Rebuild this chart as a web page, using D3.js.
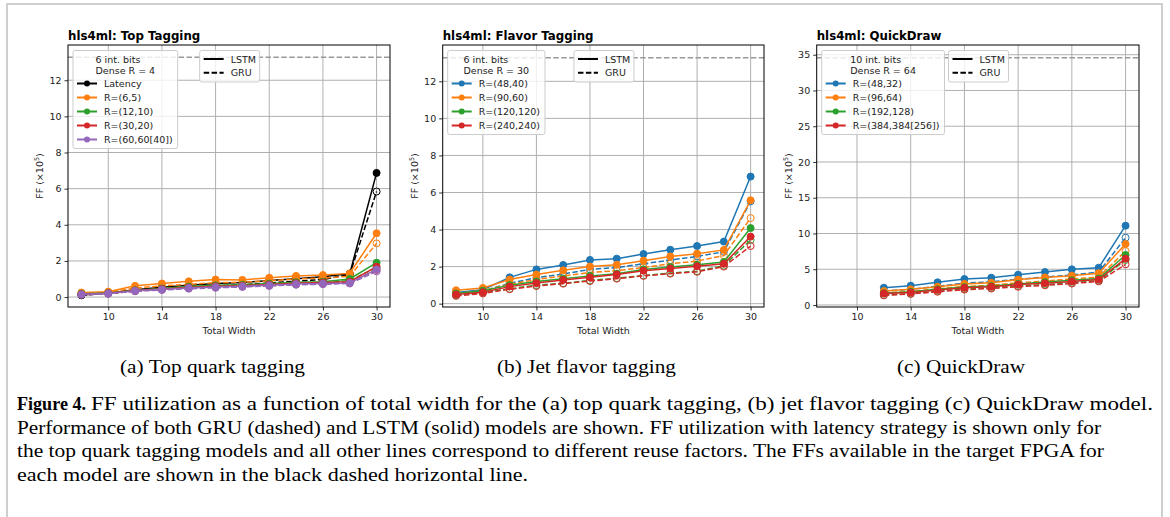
<!DOCTYPE html>
<html>
<head>
<meta charset="utf-8">
<script src="https://cdn.jsdelivr.net/npm/d3@7"></script>
<style>
  body { margin: 0; background: #fff; }
  svg { display: block; }
</style>
</head>
<body>
<script>
// Total width values on the x axis
const widthsAll = [8, 10, 12, 14, 16, 18, 20, 22, 24, 26, 28, 30];
const widthsQuick = [12, 14, 16, 18, 20, 22, 24, 26, 28, 30];
const xTicks = [10, 14, 18, 22, 26, 30];
const yTicksSmall = [0, 2, 4, 6, 8, 10, 12];
const yTicksQuick = [0, 5, 10, 15, 20, 25, 30, 35];

// FFs available in target FPGA (x10^5)
const ffAvailTop = 13.2672;
const ffAvailFlavor = 13.2672;
const ffAvailQuick = 34.56;

// (a) top tagging
const topNames = ["Latency", "R=(6,5)", "R=(12,10)", "R=(30,20)", "R=(60,60[40])"];
const topColors = ["#000000", "#ff7f0e", "#2ca02c", "#d62728", "#9467bd"];
const topLatencyLSTM = [0.12, 0.22, 0.40, 0.55, 0.65, 0.75, 0.80, 0.92, 1.02, 1.12, 1.30, 6.87];
const topLatencyGRU  = [0.10, 0.20, 0.35, 0.45, 0.55, 0.62, 0.68, 0.78, 0.88, 0.97, 1.25, 5.84];
const topR1LSTM = [0.25, 0.30, 0.62, 0.75, 0.87, 0.97, 0.95, 1.07, 1.17, 1.22, 1.31, 3.53];
const topR1GRU  = [0.20, 0.27, 0.50, 0.62, 0.70, 0.80, 0.82, 0.90, 1.00, 1.05, 1.15, 2.97];
const topR2LSTM = [0.18, 0.22, 0.38, 0.48, 0.58, 0.65, 0.68, 0.75, 0.82, 0.85, 1.00, 1.90];
const topR2GRU  = [0.15, 0.20, 0.34, 0.43, 0.52, 0.58, 0.62, 0.68, 0.74, 0.78, 0.92, 1.62];
const topR3LSTM = [0.16, 0.21, 0.36, 0.45, 0.53, 0.60, 0.63, 0.70, 0.77, 0.80, 0.85, 1.68];
const topR3GRU  = [0.13, 0.19, 0.33, 0.41, 0.49, 0.55, 0.58, 0.64, 0.70, 0.73, 0.80, 1.50];
const topR4LSTM = [0.15, 0.20, 0.35, 0.42, 0.50, 0.55, 0.60, 0.65, 0.72, 0.75, 0.78, 1.53];
const topR4GRU  = [0.13, 0.18, 0.32, 0.39, 0.46, 0.51, 0.56, 0.61, 0.68, 0.71, 0.75, 1.42];

// (b) flavor tagging
const flavorNames = ["R=(48,40)", "R=(90,60)", "R=(120,120)", "R=(240,240)"];
const flavorColors = ["#1f77b4", "#ff7f0e", "#2ca02c", "#d62728"];
const flavorR1LSTM = [0.60, 0.75, 1.42, 1.85, 2.09, 2.36, 2.43, 2.68, 2.91, 3.11, 3.35, 6.86];
const flavorR1GRU  = [0.52, 0.68, 1.10, 1.40, 1.60, 1.85, 1.95, 2.15, 2.35, 2.55, 2.80, 5.52];
const flavorR2LSTM = [0.72, 0.85, 1.30, 1.57, 1.80, 2.00, 2.10, 2.32, 2.55, 2.70, 2.90, 5.58];
const flavorR2GRU  = [0.55, 0.70, 1.05, 1.30, 1.50, 1.68, 1.78, 1.95, 2.15, 2.30, 2.60, 4.62];
const flavorR3LSTM = [0.55, 0.70, 1.00, 1.20, 1.35, 1.50, 1.62, 1.85, 1.98, 2.10, 2.25, 4.08];
const flavorR3GRU  = [0.45, 0.60, 0.80, 1.00, 1.10, 1.25, 1.38, 1.52, 1.65, 1.75, 2.05, 3.44];
const flavorR4LSTM = [0.50, 0.62, 0.92, 1.12, 1.28, 1.42, 1.58, 1.78, 1.90, 2.02, 2.15, 3.62];
const flavorR4GRU  = [0.42, 0.55, 0.78, 0.95, 1.08, 1.22, 1.35, 1.50, 1.62, 1.72, 2.00, 3.11];

// (c) QuickDraw
const quickNames = ["R=(48,32)", "R=(96,64)", "R=(192,128)", "R=(384,384[256])"];
const quickColors = ["#1f77b4", "#ff7f0e", "#2ca02c", "#d62728"];
const quickR1LSTM = [2.42, 2.70, 3.17, 3.63, 3.82, 4.24, 4.61, 4.99, 5.22, 11.09];
const quickR1GRU  = [1.95, 2.20, 2.60, 3.05, 3.25, 3.60, 3.90, 4.20, 4.60, 9.41];
const quickR2LSTM = [1.95, 2.20, 2.55, 2.95, 3.10, 3.55, 3.85, 4.10, 4.45, 8.53];
const quickR2GRU  = [1.70, 1.90, 2.25, 2.60, 2.75, 3.10, 3.35, 3.65, 3.90, 7.55];
const quickR3LSTM = [1.65, 1.85, 2.20, 2.50, 2.65, 2.95, 3.20, 3.45, 3.70, 6.99];
const quickR3GRU  = [1.40, 1.60, 1.95, 2.25, 2.40, 2.65, 2.85, 3.10, 3.40, 6.30];
const quickR4LSTM = [1.60, 1.75, 2.10, 2.40, 2.55, 2.85, 3.05, 3.30, 3.55, 6.48];
const quickR4GRU  = [1.35, 1.55, 1.85, 2.15, 2.30, 2.55, 2.75, 3.00, 3.30, 5.69];

const svg = d3.select("body").append("svg")
  .attr("width", 1170)
  .attr("height", 517);

// light page frame
svg.append("rect")
  .attr("x", 7).attr("y", 4)
  .attr("width", 1155).attr("height", 600)
  .attr("fill", "none")
  .attr("stroke", "#cfcfcf")
  .attr("stroke-width", 2);

const sans = "DejaVu Sans, sans-serif";

function drawPanel(opt) {
  const top = 45, bottom = 307;
  const x = d3.scaleLinear().domain([7, 31]).range([opt.left, opt.right]);
  const y = d3.scaleLinear().domain(opt.yDomain).range([bottom, top]);
  const g = svg.append("g");

  // grid
  g.append("g").selectAll("line.gx").data(xTicks).join("line")
    .attr("x1", d => x(d)).attr("x2", d => x(d))
    .attr("y1", top).attr("y2", bottom)
    .attr("stroke", "#b0b0b0").attr("stroke-width", 1);
  g.append("g").selectAll("line.gy").data(opt.yTicks).join("line")
    .attr("x1", opt.left).attr("x2", opt.right)
    .attr("y1", d => y(d)).attr("y2", d => y(d))
    .attr("stroke", "#b0b0b0").attr("stroke-width", 1);

  // available FFs
  g.append("line")
    .attr("x1", opt.left).attr("x2", opt.right)
    .attr("y1", y(opt.avail)).attr("y2", y(opt.avail))
    .attr("stroke", "#999").attr("stroke-width", 1.5)
    .attr("stroke-dasharray", "5.5,2.4");

  // axes
  const xAxis = d3.axisBottom(x).tickValues(xTicks).tickSize(3.5).tickPadding(3);
  const yAxis = d3.axisLeft(y).tickValues(opt.yTicks).tickSize(3.5).tickPadding(3);
  const ax = g.append("g").attr("transform", `translate(0,${bottom})`).call(xAxis);
  const ay = g.append("g").attr("transform", `translate(${opt.left},0)`).call(yAxis);
  [ax, ay].forEach(a => {
    a.select(".domain").remove();
    a.selectAll("line").attr("stroke", "#000").attr("stroke-width", 0.8);
    a.selectAll("text").attr("font-family", sans).attr("font-size", 9.5).attr("fill", "#222");
  });

  // series
  const line = d3.line().x(d => x(d[0])).y(d => y(d[1]));
  opt.series.forEach(s => {
    const gru = opt.xs.map((w, i) => [w, s.gru[i]]);
    const lstm = opt.xs.map((w, i) => [w, s.lstm[i]]);
    g.append("path").datum(gru)
      .attr("d", line).attr("fill", "none")
      .attr("stroke", s.color).attr("stroke-width", 1.5)
      .attr("stroke-dasharray", "5.5,2.4");
    g.append("g").selectAll("circle").data(gru).join("circle")
      .attr("cx", d => x(d[0])).attr("cy", d => y(d[1])).attr("r", 3.5)
      .attr("fill", "none").attr("stroke", s.color).attr("stroke-width", 1);
    g.append("path").datum(lstm)
      .attr("d", line).attr("fill", "none")
      .attr("stroke", s.color).attr("stroke-width", 1.5);
    g.append("g").selectAll("circle").data(lstm).join("circle")
      .attr("cx", d => x(d[0])).attr("cy", d => y(d[1])).attr("r", 3.5)
      .attr("fill", s.color).attr("stroke", s.color).attr("stroke-width", 1);
  });

  // frame
  g.append("rect")
    .attr("x", opt.left).attr("y", top)
    .attr("width", opt.right - opt.left).attr("height", bottom - top)
    .attr("fill", "none").attr("stroke", "#000").attr("stroke-width", 1);

  // title and labels
  g.append("text")
    .attr("x", opt.left).attr("y", 40)
    .attr("font-family", sans).attr("font-size", 11.8).attr("font-weight", "bold")
    .text(opt.title);
  g.append("text")
    .attr("x", (opt.left + opt.right) / 2).attr("y", 334)
    .attr("text-anchor", "middle")
    .attr("font-family", sans).attr("font-size", 9.5).attr("fill", "#222")
    .text("Total Width");
  const yl = g.append("text")
    .attr("transform", `translate(${opt.ylabelX},176) rotate(-90)`)
    .attr("text-anchor", "middle")
    .attr("font-family", sans).attr("font-size", 9.5).attr("fill", "#222");
  yl.append("tspan").text("FF (×10");
  yl.append("tspan").attr("font-size", 6.5).attr("dy", -4).text("5");
  yl.append("tspan").attr("dy", 4).text(")");

  // legend of reuse factors
  const lx = opt.left + 5, ly = 50.5;
  const lg = g.append("g");
  const box = lg.append("rect")
    .attr("x", lx).attr("y", ly).attr("rx", 2)
    .attr("fill", "#fff").attr("fill-opacity", 0.8)
    .attr("stroke", "#cccccc").attr("stroke-width", 1);
  const titles = opt.legendTitle.map((t, i) => lg.append("text")
    .attr("y", ly + 12.3 + i * 11)
    .attr("font-family", sans).attr("font-size", 9.5).attr("fill", "#222")
    .text(t));
  let maxText = 0;
  opt.series.forEach((s, i) => {
    const ry = ly + 33 + i * 14;
    lg.append("line")
      .attr("x1", lx + 4).attr("x2", lx + 24)
      .attr("y1", ry).attr("y2", ry)
      .attr("stroke", s.color).attr("stroke-width", 2);
    lg.append("circle").attr("cx", lx + 14).attr("cy", ry).attr("r", 3)
      .attr("fill", s.color);
    const t = lg.append("text")
      .attr("x", lx + 31).attr("y", ry + 3.5)
      .attr("font-family", sans).attr("font-size", 9.5).attr("fill", "#222")
      .text(s.name);
    maxText = Math.max(maxText, t.node().getComputedTextLength());
  });
  const boxW = 31 + maxText + 5;
  const boxH = 42 + 14 * (opt.series.length - 1);
  box.attr("width", boxW).attr("height", boxH);
  const titleW = d3.max(titles, t => t.node().getComputedTextLength());
  titles.forEach(t => t.attr("x", lx + boxW / 2 - titleW / 2));

  // legend of cell type
  const sx = lx + boxW + opt.styleGap, sy = 50.5;
  const sg = g.append("g");
  sg.append("rect")
    .attr("x", sx).attr("y", sy).attr("rx", 2)
    .attr("width", 60).attr("height", 31.5)
    .attr("fill", "#fff").attr("fill-opacity", 0.8)
    .attr("stroke", "#cccccc").attr("stroke-width", 1);
  [["LSTM", null], ["GRU", "5.5,2.4"]].forEach((d, i) => {
    const ry = sy + 8.5 + i * 13.7;
    sg.append("line")
      .attr("x1", sx + 4).attr("x2", sx + 24)
      .attr("y1", ry).attr("y2", ry)
      .attr("stroke", "#000").attr("stroke-width", 2)
      .attr("stroke-dasharray", d[1]);
    sg.append("text")
      .attr("x", sx + 31).attr("y", ry + 3.5)
      .attr("font-family", sans).attr("font-size", 9.5).attr("fill", "#222")
      .text(d[0]);
  });
}

drawPanel({
  title: "hls4ml: Top Tagging",
  left: 68, right: 390, ylabelX: 43, styleGap: 22,
  yDomain: [-0.55, 13.95], yTicks: yTicksSmall, avail: ffAvailTop,
  xs: widthsAll,
  legendTitle: ["6 int. bits", "Dense R = 4"],
  series: [
    { name: topNames[0], color: topColors[0], lstm: topLatencyLSTM, gru: topLatencyGRU },
    { name: topNames[1], color: topColors[1], lstm: topR1LSTM, gru: topR1GRU },
    { name: topNames[2], color: topColors[2], lstm: topR2LSTM, gru: topR2GRU },
    { name: topNames[3], color: topColors[3], lstm: topR3LSTM, gru: topR3GRU },
    { name: topNames[4], color: topColors[4], lstm: topR4LSTM, gru: topR4GRU }
  ]
});

drawPanel({
  title: "hls4ml: Flavor Tagging",
  left: 442.7, right: 764, ylabelX: 418, styleGap: 29,
  yDomain: [-0.18, 13.96], yTicks: yTicksSmall, avail: ffAvailFlavor,
  xs: widthsAll,
  legendTitle: ["6 int. bits", "Dense R = 30"],
  series: [
    { name: flavorNames[0], color: flavorColors[0], lstm: flavorR1LSTM, gru: flavorR1GRU },
    { name: flavorNames[1], color: flavorColors[1], lstm: flavorR2LSTM, gru: flavorR2GRU },
    { name: flavorNames[2], color: flavorColors[2], lstm: flavorR3LSTM, gru: flavorR3GRU },
    { name: flavorNames[3], color: flavorColors[3], lstm: flavorR4LSTM, gru: flavorR4GRU }
  ]
});

drawPanel({
  title: "hls4ml: QuickDraw",
  left: 816.7, right: 1139, ylabelX: 792, styleGap: 4,
  yDomain: [-0.28, 36.36], yTicks: yTicksQuick, avail: ffAvailQuick,
  xs: widthsQuick,
  legendTitle: ["10 int. bits", "Dense R = 64"],
  series: [
    { name: quickNames[0], color: quickColors[0], lstm: quickR1LSTM, gru: quickR1GRU },
    { name: quickNames[1], color: quickColors[1], lstm: quickR2LSTM, gru: quickR2GRU },
    { name: quickNames[2], color: quickColors[2], lstm: quickR3LSTM, gru: quickR3GRU },
    { name: quickNames[3], color: quickColors[3], lstm: quickR4LSTM, gru: quickR4GRU }
  ]
});

// sub captions
const serif = "Liberation Serif, serif";
const subCaps = [
  { text: "(a) Top quark tagging", x: 120, w: 185 },
  { text: "(b) Jet flavor tagging", x: 497, w: 179 },
  { text: "(c) QuickDraw", x: 897, w: 128 }
];
subCaps.forEach(c => {
  svg.append("text")
    .attr("x", c.x).attr("y", 373)
    .attr("font-family", serif).attr("font-size", 18.5)
    .attr("textLength", c.w).attr("lengthAdjust", "spacingAndGlyphs")
    .text(c.text);
});

// figure caption
svg.append("text")
  .attr("x", 17).attr("y", 410)
  .attr("font-family", serif).attr("font-size", 18.5).attr("font-weight", "bold")
  .attr("textLength", 69).attr("lengthAdjust", "spacingAndGlyphs")
  .text("Figure 4.");
const capLines = [
  { text: "FF utilization as a function of total width for the (a) top quark tagging, (b) jet flavor tagging (c) QuickDraw model.", x: 91, w: 1062, y: 410 },
  { text: "Performance of both GRU (dashed) and LSTM (solid) models are shown. FF utilization with latency strategy is shown only for", x: 17, w: 1084, y: 434 },
  { text: "the top quark tagging models and all other lines correspond to different reuse factors. The FFs available in the target FPGA for", x: 17, w: 1087, y: 457 },
  { text: "each model are shown in the black dashed horizontal line.", x: 17, w: 511, y: 481 }
];
capLines.forEach(c => {
  svg.append("text")
    .attr("x", c.x).attr("y", c.y)
    .attr("font-family", serif).attr("font-size", 18.5)
    .attr("textLength", c.w).attr("lengthAdjust", "spacingAndGlyphs")
    .text(c.text);
});
</script>
</body>
</html>
